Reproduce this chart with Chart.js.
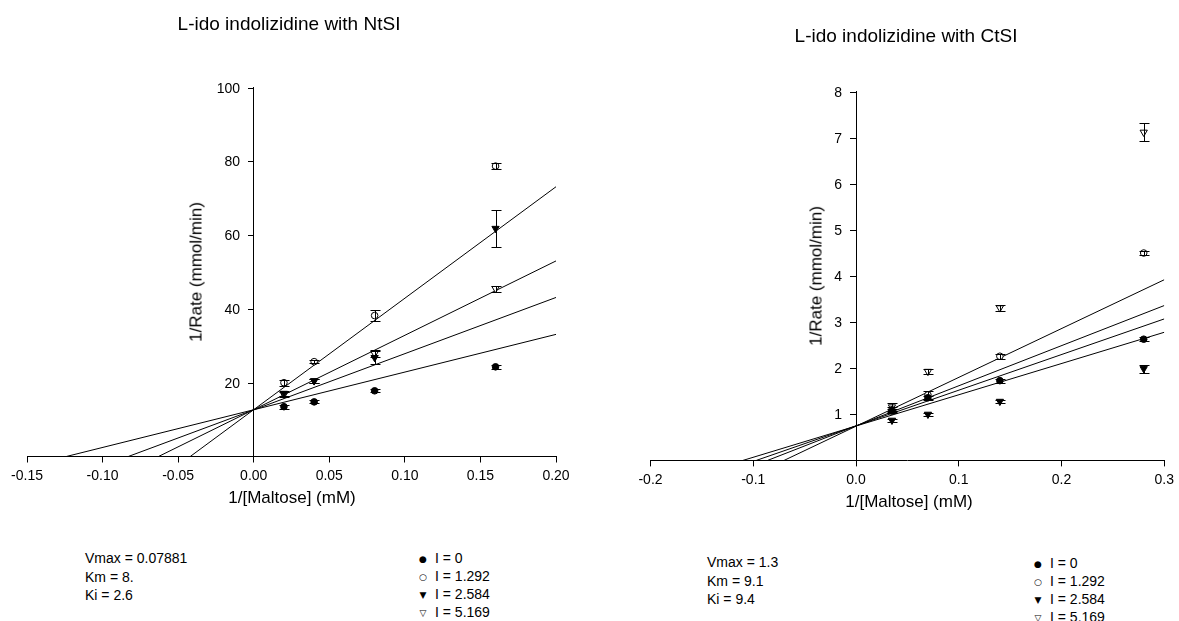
<!DOCTYPE html>
<html>
<head>
<meta charset="utf-8">
<title>L-ido indolizidine inhibition of NtSI and CtSI</title>
<script src="https://cdn.jsdelivr.net/npm/chart.js@4.4.1/dist/chart.umd.min.js"></script>
<style>
    html, body { margin: 0; padding: 0; background: #fff; }
    body {
        position: relative;
        width: 1179px;
        height: 621px;
        overflow: hidden;
        font-family: "Liberation Sans", Arial, sans-serif;
        color: #000;
    }
    canvas { position: absolute; top: 0; }
    .txt { position: absolute; white-space: nowrap; line-height: 1; transform: translate(-50%, -50%); }
    .title { font-size: 19px; }
    .axis-title { font-size: 17px; }
    .vert { transform: translate(-50%, -50%) rotate(-90deg); }
    .stats { position: absolute; font-size: 14px; line-height: 18.5px; }
    .key { position: absolute; font-size: 14px; line-height: 17px; }
    .key .mark {
        display: inline-block;
        width: 24px;
        margin-left: -12px;
        text-align: center;
        font-family: "DejaVu Sans", sans-serif;
        font-size: 9px;
        vertical-align: 1px;
    }
</style>
</head>
<body>
<canvas id="ntsi-chart" width="600" height="510" style="left:0px;width:600px;height:510px"></canvas>
<canvas id="ctsi-chart" width="579" height="510" style="left:600px;width:579px;height:510px"></canvas>

<div class="txt title" style="left:289px;top:23px">L-ido indolizidine with NtSI</div>
<div class="txt title" style="left:906px;top:35px">L-ido indolizidine with CtSI</div>
<div class="txt axis-title" style="left:292px;top:497px">1/[Maltose] (mM)</div>
<div class="txt axis-title" style="left:909px;top:501px">1/[Maltose] (mM)</div>
<div class="txt axis-title vert" style="left:196px;top:272px">1/Rate (mmol/min)</div>
<div class="txt axis-title vert" style="left:816px;top:276px">1/Rate (mmol/min)</div>

<div id="ntsi-stats" class="stats" style="left:85px;top:549px"></div>
<div id="ctsi-stats" class="stats" style="left:707px;top:553px"></div>
<div id="ntsi-key" class="key" style="left:423px;top:550px"></div>
<div id="ctsi-key" class="key" style="left:1038px;top:555px"></div>

<script>
// Inhibitor concentrations shared by both enzymes
const inhibitorLabels = ['I = 0', 'I = 1.292', 'I = 2.584', 'I = 5.169'];

// NtSI: 1/[Maltose] vs 1/Rate, mean and error per inhibitor level
const ntsiMaltose = [0.02, 0.04, 0.08, 0.16];
const ntsiRateI0 = [13.5, 14.8, 17.8, 24.3];
const ntsiRateI1 = [20.0, 25.7, 38.2, 78.7];
const ntsiRateI2 = [17.1, 20.5, 26.8, 61.8];
const ntsiRateI3 = [16.8, 20.5, 27.9, 45.5];
const ntsiErrI0 = [0.5, 0.4, 0.4, 0.5];
const ntsiErrI1 = [0.8, 0.4, 1.6, 0.9];
const ntsiErrI2 = [0.6, 0.5, 1.8, 5.0];
const ntsiErrI3 = [0.6, 0.5, 0.9, 0.8];
// fitted lines: x-intercept and value at the right edge (x = 0.20)
const ntsiFitRoot = [-0.124, -0.083, -0.063, -0.042];
const ntsiFitEnd = [33.1, 43.1, 53.0, 73.1];
const ntsiXTicks = [-0.15, -0.10, -0.05, 0, 0.05, 0.10, 0.15, 0.20];
const ntsiYTicks = [20, 40, 60, 80, 100];
const ntsiStats = ['Vmax = 0.07881', 'Km = 8.', 'Ki = 2.6'];

// CtSI
const ctsiMaltose = [0.035, 0.07, 0.14, 0.28];
const ctsiRateI0 = [1.07, 1.36, 1.73, 2.63];
const ctsiRateI1 = [1.10, 1.42, 2.26, 4.50];
const ctsiRateI2 = [0.87, 1.00, 1.28, 1.99];
const ctsiRateI3 = [1.16, 1.93, 3.31, 7.12];
const ctsiErrI0 = [0.04, 0.04, 0.04, 0.05];
const ctsiErrI1 = [0.05, 0.08, 0.05, 0.04];
const ctsiErrI2 = [0.03, 0.03, 0.03, 0.09];
const ctsiErrI3 = [0.09, 0.05, 0.06, 0.20];
// fitted lines: x-intercept and value at the right edge (x = 0.3)
const ctsiFitRoot = [-0.110, -0.097, -0.086, -0.070];
const ctsiFitEnd = [2.78, 3.07, 3.36, 3.92];
const ctsiXTicks = [-0.2, -0.1, 0, 0.1, 0.2, 0.3];
const ctsiYTicks = [1, 2, 3, 4, 5, 6, 7, 8];
const ctsiStats = ['Vmax = 1.3', 'Km = 9.1', 'Ki = 9.4'];

const LineweaverBurk = (function() {
    'use strict';

    const config = {
        font: { family: "'Liberation Sans', Arial, sans-serif", size: 14 },
        ink: '#000',
        capHalfWidth: 5,
        tickLength: 6,
        yLabelGap: 14,
        // filled circle, open circle, filled down-triangle, open down-triangle
        markers: [
            { pointStyle: 'circle', radius: 3.3, fill: '#000', rotation: 0, glyph: '\u25CF' },
            { pointStyle: 'circle', radius: 3.3, fill: '#fff', rotation: 0, glyph: '\u25CB' },
            { pointStyle: 'triangle', radius: 4.2, fill: '#000', rotation: 180, glyph: '\u25BC' },
            { pointStyle: 'triangle', radius: 4.2, fill: '#fff', rotation: 180, glyph: '\u25BD' }
        ]
    };

    /**
     * Vertical error bars with caps, drawn through the chart scales
     */
    const errorBars = {
        id: 'errorBars',
        afterDatasetsDraw(chart) {
            const ctx = chart.ctx;
            const xs = chart.scales.x;
            const ys = chart.scales.y;
            const w = config.capHalfWidth;
            ctx.save();
            ctx.strokeStyle = config.ink;
            ctx.lineWidth = 1;
            chart.data.datasets.forEach(function(ds) {
                if (!ds.errors) return;
                ds.data.forEach(function(pt, j) {
                    const err = ds.errors[j];
                    const px = Math.round(xs.getPixelForValue(pt.x)) + 0.5;
                    const hi = Math.round(ys.getPixelForValue(pt.y + err)) + 0.5;
                    const lo = Math.round(ys.getPixelForValue(pt.y - err)) + 0.5;
                    ctx.beginPath();
                    ctx.moveTo(px, hi);
                    ctx.lineTo(px, lo);
                    ctx.moveTo(px - w, hi);
                    ctx.lineTo(px + w, hi);
                    ctx.moveTo(px - w, lo);
                    ctx.lineTo(px + w, lo);
                    ctx.stroke();
                });
            });
            ctx.restore();
        }
    };

    /**
     * The y axis crosses at x = 0, so its tick marks and labels are
     * placed here, to the left of that crossing
     */
    const crossingAxisLabels = {
        id: 'crossingAxisLabels',
        afterDraw(chart) {
            const ctx = chart.ctx;
            const xs = chart.scales.x;
            const ys = chart.scales.y;
            const ax = Math.round(xs.getPixelForValue(0));
            ctx.save();
            ctx.strokeStyle = config.ink;
            ctx.fillStyle = config.ink;
            ctx.lineWidth = 1;
            ctx.font = config.font.size + 'px ' + config.font.family;
            ctx.textAlign = 'right';
            ctx.textBaseline = 'middle';
            ys.ticks.forEach(function(t) {
                const py = Math.round(ys.getPixelForValue(t.value)) + 0.5;
                ctx.beginPath();
                ctx.moveTo(ax, py);
                ctx.lineTo(ax - config.tickLength, py);
                ctx.stroke();
                ctx.fillText(String(t.value), ax - config.yLabelGap, py + 0.5);
            });
            ctx.restore();
        }
    };

    function fixedTicks(values) {
        return function(scale) {
            scale.ticks = values.map(function(v) { return { value: v }; });
        };
    }

    /**
     * Build one double-reciprocal panel
     */
    function buildPanel(canvasId, spec) {
        const datasets = [];

        // fitted lines sit underneath the data points
        spec.fitRoot.forEach(function(root, i) {
            datasets.push({
                data: [{ x: root, y: 0 }, { x: spec.xMax, y: spec.fitEnd[i] }],
                showLine: true,
                borderColor: config.ink,
                borderWidth: 1,
                pointRadius: 0,
                order: 2
            });
        });

        spec.rates.forEach(function(rates, i) {
            const m = config.markers[i];
            datasets.push({
                label: inhibitorLabels[i],
                data: rates.map(function(r, j) { return { x: spec.maltose[j], y: r }; }),
                errors: spec.errors[i],
                showLine: false,
                pointStyle: m.pointStyle,
                rotation: m.rotation,
                pointRadius: m.radius,
                pointBackgroundColor: m.fill,
                pointBorderColor: config.ink,
                pointBorderWidth: 1,
                order: 1
            });
        });

        return new Chart(document.getElementById(canvasId), {
            type: 'scatter',
            data: { datasets: datasets },
            plugins: [errorBars, crossingAxisLabels],
            options: {
                responsive: false,
                animation: false,
                events: [],
                layout: { padding: spec.padding },
                plugins: {
                    legend: { display: false },
                    tooltip: { enabled: false },
                    title: { display: false }
                },
                scales: {
                    x: {
                        type: 'linear',
                        position: 'bottom',
                        min: spec.xMin,
                        max: spec.xMax,
                        afterBuildTicks: fixedTicks(spec.xTicks),
                        afterFit: function(scale) { scale.height = 30; },
                        ticks: {
                            font: config.font,
                            color: config.ink,
                            padding: 5,
                            maxRotation: 0,
                            autoSkip: false,
                            callback: function(v) { return v.toFixed(spec.xDigits); }
                        },
                        grid: { drawOnChartArea: false, drawTicks: true, tickLength: config.tickLength, color: config.ink },
                        border: { display: true, color: config.ink, width: 1 }
                    },
                    y: {
                        type: 'linear',
                        position: { x: 0 },
                        min: 0,
                        max: spec.yMax,
                        afterBuildTicks: fixedTicks(spec.yTicks),
                        ticks: { display: false },
                        grid: { display: false },
                        border: { display: true, color: config.ink, width: 1 }
                    }
                }
            }
        });
    }

    function renderStats(id, lines) {
        document.getElementById(id).innerHTML = lines.join('<br>');
    }

    function renderKey(id) {
        document.getElementById(id).innerHTML = inhibitorLabels.map(function(label, i) {
            return '<div><span class="mark">' + config.markers[i].glyph + '</span>' + label + '</div>';
        }).join('');
    }

    function initialize() {
        buildPanel('ntsi-chart', {
            maltose: ntsiMaltose,
            rates: [ntsiRateI0, ntsiRateI1, ntsiRateI2, ntsiRateI3],
            errors: [ntsiErrI0, ntsiErrI1, ntsiErrI2, ntsiErrI3],
            fitRoot: ntsiFitRoot,
            fitEnd: ntsiFitEnd,
            xTicks: ntsiXTicks,
            yTicks: ntsiYTicks,
            xMin: -0.15, xMax: 0.20, yMax: 100, xDigits: 2,
            padding: { left: 27, right: 44, top: 87.5, bottom: 23.5 }
        });
        buildPanel('ctsi-chart', {
            maltose: ctsiMaltose,
            rates: [ctsiRateI0, ctsiRateI1, ctsiRateI2, ctsiRateI3],
            errors: [ctsiErrI0, ctsiErrI1, ctsiErrI2, ctsiErrI3],
            fitRoot: ctsiFitRoot,
            fitEnd: ctsiFitEnd,
            xTicks: ctsiXTicks,
            yTicks: ctsiYTicks,
            xMin: -0.2, xMax: 0.3, yMax: 8, xDigits: 1,
            padding: { left: 50.5, right: 11.5, top: 91.7, bottom: 19.6 }
        });
        renderStats('ntsi-stats', ntsiStats);
        renderStats('ctsi-stats', ctsiStats);
        renderKey('ntsi-key');
        renderKey('ctsi-key');
    }

    return { initialize };
})();

LineweaverBurk.initialize();
</script>
</body>
</html>
